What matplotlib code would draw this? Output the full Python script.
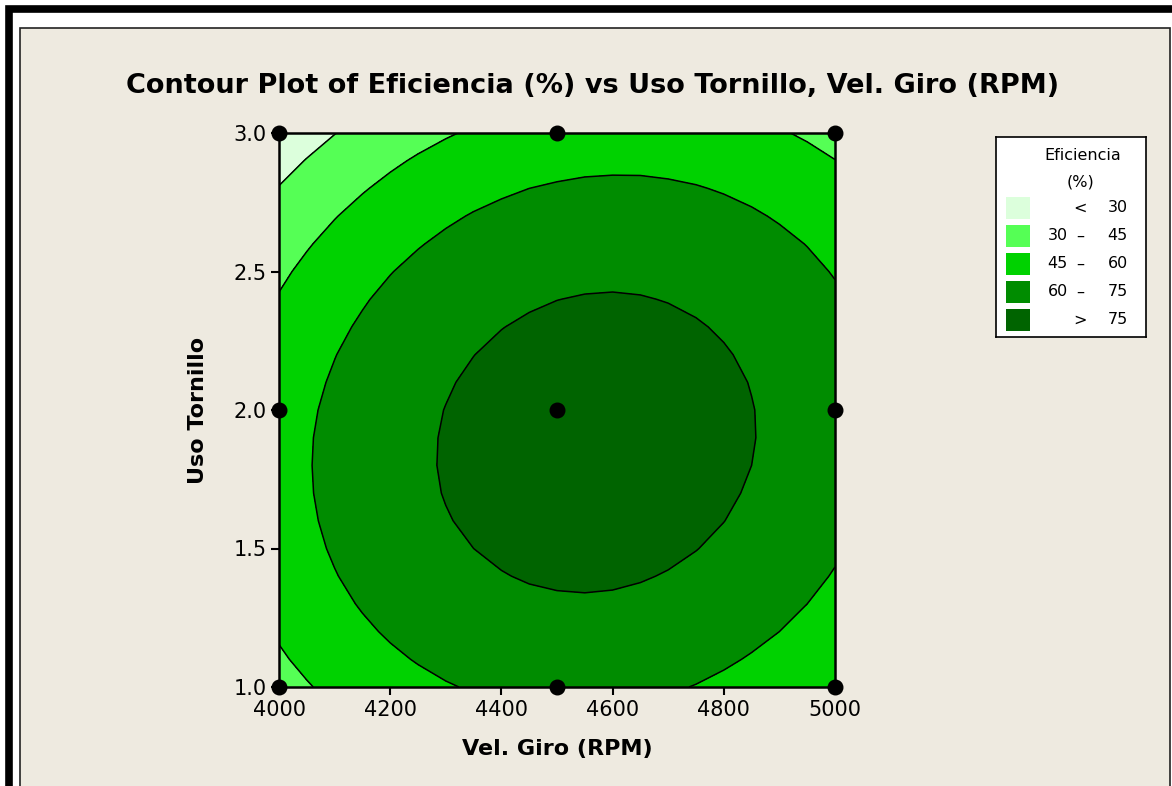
import matplotlib
matplotlib.use("Agg")
import matplotlib.pyplot as plt
from matplotlib.patches import Rectangle

# Grid of the fitted surface
vel_giro = [4000, 4050, 4100, 4150, 4200, 4250, 4300, 4350, 4400, 4450, 4500,
            4550, 4600, 4650, 4700, 4750, 4800, 4850, 4900, 4950, 5000]
uso_tornillo = [1.0, 1.1, 1.2, 1.3, 1.4, 1.5, 1.6, 1.7, 1.8, 1.9, 2.0,
                2.1, 2.2, 2.3, 2.4, 2.5, 2.6, 2.7, 2.8, 2.9, 3.0]
eficiencia = [
    [39.8, 44.1, 48.0, 51.4, 54.4, 57.0, 59.2, 60.9, 62.2, 63.1, 63.6, 63.6, 63.2, 62.4, 61.2, 59.6, 57.5, 55.0, 52.1, 48.7, 45.6],
    [43.4, 47.7, 51.6, 55.0, 58.1, 60.7, 62.9, 64.7, 66.0, 67.0, 67.5, 67.5, 67.2, 66.4, 65.2, 63.6, 61.6, 59.1, 56.3, 52.9, 49.2],
    [46.4, 50.7, 54.7, 58.2, 61.3, 63.9, 66.2, 68.0, 69.4, 70.3, 70.9, 71.0, 70.7, 70.0, 68.8, 67.2, 65.2, 62.8, 60.0, 56.7, 53.0],
    [48.9, 53.3, 57.3, 60.9, 64.0, 66.7, 69.0, 70.8, 72.2, 73.2, 73.8, 74.0, 73.7, 73.0, 71.9, 70.4, 68.4, 66.0, 63.2, 60.0, 56.3],
    [51.0, 55.5, 59.5, 63.1, 66.2, 69.0, 71.3, 73.2, 74.6, 75.7, 76.3, 76.5, 76.3, 75.6, 74.5, 73.0, 71.1, 68.8, 66.0, 62.8, 59.2],
    [52.6, 57.1, 61.2, 64.8, 68.0, 70.8, 73.1, 75.0, 76.5, 77.6, 78.3, 78.5, 78.3, 77.7, 76.7, 75.2, 73.3, 71.0, 68.3, 65.2, 61.6],
    [53.8, 58.3, 62.4, 66.0, 69.3, 72.1, 74.5, 76.4, 78.0, 79.1, 79.8, 80.1, 79.9, 79.4, 78.4, 76.9, 75.1, 72.8, 70.1, 67.0, 63.5],
    [54.4, 59.0, 63.1, 66.8, 70.1, 72.9, 75.4, 77.4, 79.0, 80.1, 80.9, 81.2, 81.1, 80.5, 79.6, 78.2, 76.4, 74.1, 71.5, 68.4, 64.9],
    [54.6, 59.2, 63.4, 67.1, 70.4, 73.3, 75.8, 77.8, 79.5, 80.7, 81.4, 81.8, 81.7, 81.2, 80.3, 78.9, 77.2, 75.0, 72.4, 69.3, 65.9],
    [54.3, 59.0, 63.2, 66.9, 70.3, 73.2, 75.7, 77.8, 79.5, 80.7, 81.5, 81.9, 81.9, 81.4, 80.5, 79.2, 77.5, 75.4, 72.8, 69.8, 66.4],
    [53.6, 58.3, 62.5, 66.3, 69.7, 72.7, 75.2, 77.3, 79.0, 80.3, 81.2, 81.6, 81.6, 81.2, 80.3, 79.1, 77.4, 75.3, 72.7, 69.8, 66.4],
    [52.4, 57.1, 61.3, 65.2, 68.6, 71.6, 74.2, 76.4, 78.1, 79.4, 80.3, 80.8, 80.8, 80.4, 79.6, 78.4, 76.8, 74.7, 72.2, 69.3, 65.9],
    [50.7, 55.4, 59.7, 63.6, 67.1, 70.1, 72.7, 74.9, 76.7, 78.1, 79.0, 79.5, 79.6, 79.2, 78.5, 77.3, 75.7, 73.6, 71.2, 68.3, 65.0],
    [48.5, 53.3, 57.6, 61.5, 65.1, 68.1, 70.8, 73.0, 74.8, 76.2, 77.2, 77.7, 77.9, 77.6, 76.8, 75.7, 74.1, 72.1, 69.7, 66.8, 63.6],
    [45.8, 50.7, 55.0, 59.0, 62.6, 65.7, 68.4, 70.7, 72.5, 73.9, 74.9, 75.5, 75.7, 75.4, 74.7, 73.6, 72.1, 70.1, 67.7, 64.9, 61.7],
    [42.7, 47.6, 52.0, 56.0, 59.6, 62.8, 65.5, 67.8, 69.7, 71.2, 72.2, 72.8, 73.0, 72.8, 72.1, 71.1, 69.6, 67.6, 65.3, 62.5, 59.3],
    [39.1, 44.0, 48.5, 52.5, 56.1, 59.3, 62.1, 64.5, 66.4, 67.9, 69.0, 69.6, 69.9, 69.7, 69.1, 68.0, 66.6, 64.7, 62.4, 59.7, 56.5],
    [35.1, 40.0, 44.5, 48.6, 52.2, 55.5, 58.3, 60.7, 62.6, 64.2, 65.3, 66.0, 66.3, 66.1, 65.5, 64.5, 63.1, 61.3, 59.0, 56.3, 53.2],
    [30.5, 35.5, 40.0, 44.1, 47.8, 51.1, 54.0, 56.4, 58.4, 60.0, 61.1, 61.9, 62.2, 62.1, 61.5, 60.6, 59.2, 57.4, 55.2, 52.5, 49.4],
    [25.5, 30.5, 35.1, 39.2, 43.0, 46.3, 49.2, 51.7, 53.7, 55.3, 56.5, 57.3, 57.6, 57.6, 57.1, 56.1, 54.8, 53.0, 50.8, 48.2, 45.2],
    [20.0, 25.1, 29.7, 33.9, 37.7, 41.0, 43.9, 46.4, 48.5, 50.2, 51.4, 52.2, 52.6, 52.6, 52.1, 51.2, 49.9, 48.2, 46.0, 43.5, 40.5],
]

# design points (3x3 factorial)
design_x = [4000, 4500, 5000, 4000, 4500, 5000, 4000, 4500, 5000]
design_y = [1.0, 1.0, 1.0, 2.0, 2.0, 2.0, 3.0, 3.0, 3.0]

levels = [0, 30, 45, 60, 75, 100]
colors = ["#DCFFDC", "#55FF55", "#00D200", "#008C00", "#006400"]
legend_labels = [("", "<", "30"), ("30", "–", "45"), ("45", "–", "60"), ("60", "–", "75"), ("", ">", "75")]

W, H = 1172, 786
fig = plt.figure(figsize=(W / 100, H / 100), dpi=100, facecolor="white")
plt.rcParams["font.family"] = ["DejaVu Sans"]

# panel background and outer frame
fig.add_artist(Rectangle((20 / W, -0.1), 1150 / W, 1.1 - 28 / H, transform=fig.transFigure,
                         facecolor="#EEEAE0", edgecolor="#222222", lw=1.2, zorder=0))
fig.add_artist(Rectangle((9.5 / W, -0.1), 1.2, 1.1 - 9.5 / H, transform=fig.transFigure,
                         fill=False, edgecolor="black", lw=5.5, zorder=0))

ax = fig.add_axes([279 / W, 1 - 687 / H, 556 / W, 554 / H])
ax.contourf(vel_giro, uso_tornillo, eficiencia, levels=levels, colors=colors)
ax.contour(vel_giro, uso_tornillo, eficiencia, levels=levels[1:-1], colors="black", linewidths=1.1)
ax.scatter(design_x, design_y, s=110, color="black", zorder=5, clip_on=False)
ax.set_xlim(4000, 5000)
ax.set_ylim(1.0, 3.0)
ax.set_xticks([4000, 4200, 4400, 4600, 4800, 5000])
ax.set_yticks([1.0, 1.5, 2.0, 2.5, 3.0])
ax.set_yticklabels(["1.0", "1.5", "2.0", "2.5", "3.0"])
ax.tick_params(direction="out", length=6, width=1.5, labelsize=15, pad=3)
for s in ax.spines.values():
    s.set_linewidth(1.8)
ax.set_xlabel("Vel. Giro (RPM)", fontsize=16, fontweight="bold", labelpad=14)
ax.set_ylabel("Uso Tornillo", fontsize=16, fontweight="bold", labelpad=18)
fig.text(593 / W, 1 - 86 / H, "Contour Plot of Eficiencia (%) vs Uso Tornillo, Vel. Giro (RPM)",
         ha="center", va="center", fontsize=19.5, fontweight="bold")

# legend box
lg = fig.add_axes([996 / W, 1 - 337 / H, 150 / W, 200 / H])
lg.set_xlim(0, 150)
lg.set_ylim(200, 0)
lg.set_xticks([])
lg.set_yticks([])
lg.set_facecolor("white")
for s in lg.spines.values():
    s.set_linewidth(1.2)
lg.text(87, 18, "Eficiencia", ha="center", va="center", fontsize=11.5)
lg.text(85, 45, "(%)", ha="center", va="center", fontsize=11.5)
for i, (c, (a, d, b)) in enumerate(zip(colors, legend_labels)):
    yc = 71 + i * 28
    lg.add_patch(Rectangle((10, yc - 11), 24, 22, facecolor=c, edgecolor="none"))
    lg.text(72, yc, a, ha="right", va="center", fontsize=11.5)
    lg.text(84, yc, d, ha="center", va="center", fontsize=11.5)
    lg.text(132, yc, b, ha="right", va="center", fontsize=11.5)

fig.savefig("out.png", dpi=100)
